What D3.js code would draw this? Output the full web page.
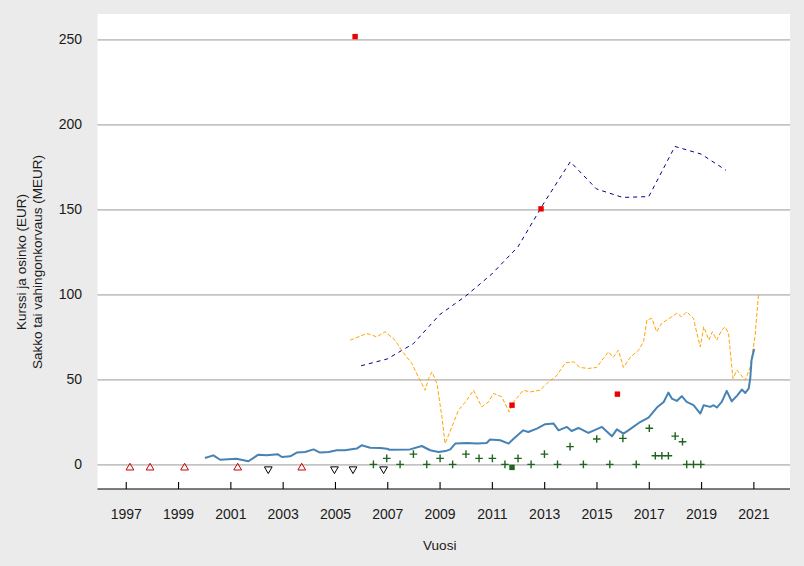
<!DOCTYPE html>
<html><head><meta charset="utf-8">
<script src="https://cdn.jsdelivr.net/npm/d3@7"></script>
<style>
html,body{margin:0;padding:0;background:#ebebeb;}
svg{display:block;font-family:"Liberation Sans",Arial,sans-serif;}
</style></head>
<body>
<svg id="chart" width="804" height="566"></svg>
<script>
// ---- data ----
const xTickYears = [1997,1999,2001,2003,2005,2007,2009,2011,2013,2015,2017,2019,2021];
const yTickValues = [0,50,100,150,200,250];
const xTitle = "Vuosi";
const yTitle1 = "Kurssi ja osinko (EUR)";
const yTitle2 = "Sakko tai vahingonkorvaus (MEUR)";

// share price (solid steelblue)
const priceYears = [2000.03,2000.35,2000.61,2001.23,2001.69,2002.07,2002.39,2002.82,2002.97,2003.29,2003.54,2003.86,2004.18,2004.43,2004.76,2005.07,2005.38,2005.83,2006.02,2006.35,2006.73,2006.99,2007.09,2007.87,2008.32,2008.64,2008.96,2009.22,2009.41,2009.6,2010.05,2010.43,2010.8,2010.93,2011.32,2011.64,2011.83,2012.2,2012.39,2012.72,2013.04,2013.36,2013.55,2013.87,2014.05,2014.31,2014.69,2015.21,2015.59,2015.78,2016.03,2016.22,2016.67,2016.99,2017.31,2017.57,2017.75,2017.88,2018.07,2018.26,2018.45,2018.71,2018.97,2019.1,2019.35,2019.48,2019.6,2019.79,2019.98,2020.17,2020.37,2020.56,2020.69,2020.82,2020.88,2020.93,2021.03];
const priceValues = [3.7,5.3,2.7,3.3,1.8,5.7,5.3,5.9,4.3,4.7,6.9,7.3,8.8,6.9,7.3,8.3,8.3,9.3,11.2,9.8,9.6,9.2,8.6,8.8,10.8,8.3,7.3,7.8,8.8,12.2,12.6,12.2,12.6,14.6,14.2,12.2,15.1,20.0,19.0,21.0,23.6,24.0,20.0,22.0,19.6,21.4,18.5,22.0,16.5,20.6,18.1,20.0,24.9,27.5,33.4,36.7,42.2,38.7,37.3,40.1,36.7,34.8,29.9,34.8,33.8,34.8,33.4,36.7,43.2,37.1,40.3,44.0,42.0,44.6,50.5,61.3,67.8];

// orange dashed series
const orangeYears = [2005.58,2005.96,2006.22,2006.6,2006.92,2007.3,2007.55,2007.94,2008.19,2008.45,2008.58,2008.71,2008.9,2009.09,2009.21,2009.47,2009.72,2010.04,2010.3,2010.61,2010.87,2011.06,2011.38,2011.66,2011.83,2012.2,2012.46,2012.84,2013.1,2013.49,2013.81,2014.12,2014.37,2014.69,2015.01,2015.21,2015.46,2015.64,2015.84,2016.03,2016.29,2016.61,2016.8,2016.93,2017.12,2017.3,2017.49,2017.69,2017.88,2018.07,2018.26,2018.45,2018.58,2018.71,2018.84,2018.97,2019.1,2019.3,2019.43,2019.6,2019.79,2019.92,2020.05,2020.22,2020.37,2020.69,2020.88,2021.06,2021.2];
const orangeValues = [73,75.4,77,75,78,73,67,59.3,51.4,43.6,50.5,54.4,47.5,27.9,12.2,22,31.8,37.7,43.6,33.8,36.7,41.7,39.7,30.8,36.7,43.6,42.6,43.6,47.5,52.4,59.7,60.3,57,56.4,57,61.3,66.2,62.9,67.2,57,62.9,67.2,72.1,84.9,85.9,78,82.9,84.9,86.8,88.8,86.8,89.8,87.8,85.9,77,69.1,80.9,73.1,78,73.1,79,80.9,77,50.5,55.4,49.5,57.3,75,100.6];

// navy dashed series (annual)
const navyYears = [2006.0,2007.0,2008.0,2009.0,2010.0,2011.0,2012.0,2013.0,2014.0,2015.0,2016.0,2017.0,2018.0,2019.0,2019.95];
const navyValues = [58,62,71,88,99,112,128,154,178,162,157,157.5,187,182.5,173];

// fines / damages (red squares)
const fineYears = [2005.77,2012.88,2011.77,2015.8];
const fineValues = [251.6,150.3,34.8,41.3];

// dark green square
const greenSqYears = [2011.77];
const greenSqValues = [-1.8];

// dividends (green plus)
const divYears = [2006.47,2006.98,2007.49,2008.0,2008.51,2009.02,2009.5,2010.01,2010.51,2011.02,2011.5,2012.0,2012.5,2013.01,2013.51,2013.99,2014.5,2015.01,2015.51,2016.01,2016.52,2017.02,2017.25,2017.5,2017.75,2018.01,2018.29,2018.45,2018.71,2018.99];
const divValues = [0,3.5,0,6,0,3.5,0,6,3.5,3.5,0,3.5,0,6,0,10.4,0,14.9,0,15.3,0,21.2,5.1,5.1,5.1,16.6,13.3,0,0,0];

// red up-triangles
const upTriYears = [1997.16,1997.93,1999.25,2001.28,2003.73];
const upTriValues = [-2,-2,-2,-2,-2];

// black down-triangles
const downTriYears = [2002.45,2004.98,2005.69,2006.86];
const downTriValues = [-2.8,-2.8,-2.8,-2.8];

// ---- layout ----
const svg = d3.select("#chart");
const L = 97.5, R = 790, T = 14, B = 489;
const x = d3.scaleLinear().domain([1995.92, 2022.40]).range([L, R]);
const y = d3.scaleLinear().domain([-14.5, 264.9]).range([B, T]);

svg.append("rect").attr("x",0).attr("y",0).attr("width",804).attr("height",566).attr("fill","#ebebeb");
svg.append("rect").attr("x",L).attr("y",T).attr("width",R-L).attr("height",B-T).attr("fill","#ffffff");

// gridlines
const grid = svg.append("g").attr("transform",`translate(${L},0)`)
  .call(d3.axisLeft(y).tickValues(yTickValues).tickSize(-(R-L)).tickFormat(""));
grid.select(".domain").remove();
grid.selectAll("line").attr("stroke","#c4c4c4").attr("stroke-width",1.6);

// y tick labels
const ya = svg.append("g").attr("transform",`translate(${L},0)`)
  .call(d3.axisLeft(y).tickValues(yTickValues).tickSize(0).tickPadding(15.5).tickFormat(d3.format("d")));
ya.select(".domain").remove();
ya.selectAll("text").attr("font-size",14).attr("fill","#1a1a1a").attr("font-family","Liberation Sans, Arial, sans-serif");

// x axis
const xa = svg.append("g").attr("transform",`translate(0,${B})`)
  .call(d3.axisBottom(x).tickValues(xTickYears).tickSizeInner(-7).tickSizeOuter(0).tickPadding(20).tickFormat(d3.format("d")));
xa.select(".domain").remove();
xa.selectAll("line").attr("stroke","#000").attr("stroke-width",1.1);
xa.selectAll("text").attr("font-size",14).attr("fill","#1a1a1a").attr("font-family","Liberation Sans, Arial, sans-serif");
svg.append("line").attr("x1",L).attr("x2",R).attr("y1",B).attr("y2",B).attr("stroke","#000").attr("stroke-width",1.2);

// titles
svg.append("text").attr("x",(L+R)/2 - 4).attr("y",550).attr("text-anchor","middle")
  .attr("font-size",13.5).attr("fill","#1a1a1a").text(xTitle);
svg.append("text").attr("transform","translate(26,262) rotate(-90)").attr("text-anchor","middle")
  .attr("font-size",13.5).attr("fill","#1a1a1a").text(yTitle1);
svg.append("text").attr("transform","translate(42,262) rotate(-90)").attr("text-anchor","middle")
  .attr("font-size",13.5).attr("fill","#1a1a1a").text(yTitle2);

const zip = (xs, ys) => xs.map((d,i)=>[d, ys[i]]);
const line = d3.line().x(d=>x(d[0])).y(d=>y(d[1]));

// navy dashed
svg.append("path").datum(zip(navyYears,navyValues)).attr("d",line)
  .attr("fill","none").attr("stroke","#00008b").attr("stroke-width",1).attr("stroke-dasharray","4,4");
// orange dashed
svg.append("path").datum(zip(orangeYears,orangeValues)).attr("d",line)
  .attr("fill","none").attr("stroke","#ffa500").attr("stroke-width",1).attr("stroke-dasharray","4,2");
// price
svg.append("path").datum(zip(priceYears,priceValues)).attr("d",line)
  .attr("fill","none").attr("stroke","#4682b4").attr("stroke-width",2).attr("stroke-linejoin","round");

// dividends plus
svg.append("g").selectAll("path").data(zip(divYears,divValues)).join("path")
  .attr("transform",d=>`translate(${x(d[0])},${y(d[1])})`)
  .attr("d","M-3.8,0H3.8M0,-3.8V3.8").attr("stroke","#1e641e").attr("stroke-width",1.4).attr("fill","none");

// triangles
const tri = d3.symbol().type(d3.symbolTriangle).size(26);
svg.append("g").selectAll("path").data(zip(upTriYears,upTriValues)).join("path")
  .attr("transform",d=>`translate(${x(d[0])},${y(d[1])})`)
  .attr("d",tri).attr("fill","none").attr("stroke","#cc0000").attr("stroke-width",1);
svg.append("g").selectAll("path").data(zip(downTriYears,downTriValues)).join("path")
  .attr("transform",d=>`translate(${x(d[0])},${y(d[1])}) rotate(180)`)
  .attr("d",tri).attr("fill","none").attr("stroke","#000").attr("stroke-width",1);

// squares
svg.append("g").selectAll("rect").data(zip(fineYears,fineValues)).join("rect")
  .attr("x",d=>x(d[0])-2.7).attr("y",d=>y(d[1])-2.7).attr("width",5.4).attr("height",5.4).attr("fill","#ee0000");
svg.append("g").selectAll("rect").data(zip(greenSqYears,greenSqValues)).join("rect")
  .attr("x",d=>x(d[0])-2.7).attr("y",d=>y(d[1])-2.7).attr("width",5.4).attr("height",5.4).attr("fill","#1e641e");
</script>
</body></html>
